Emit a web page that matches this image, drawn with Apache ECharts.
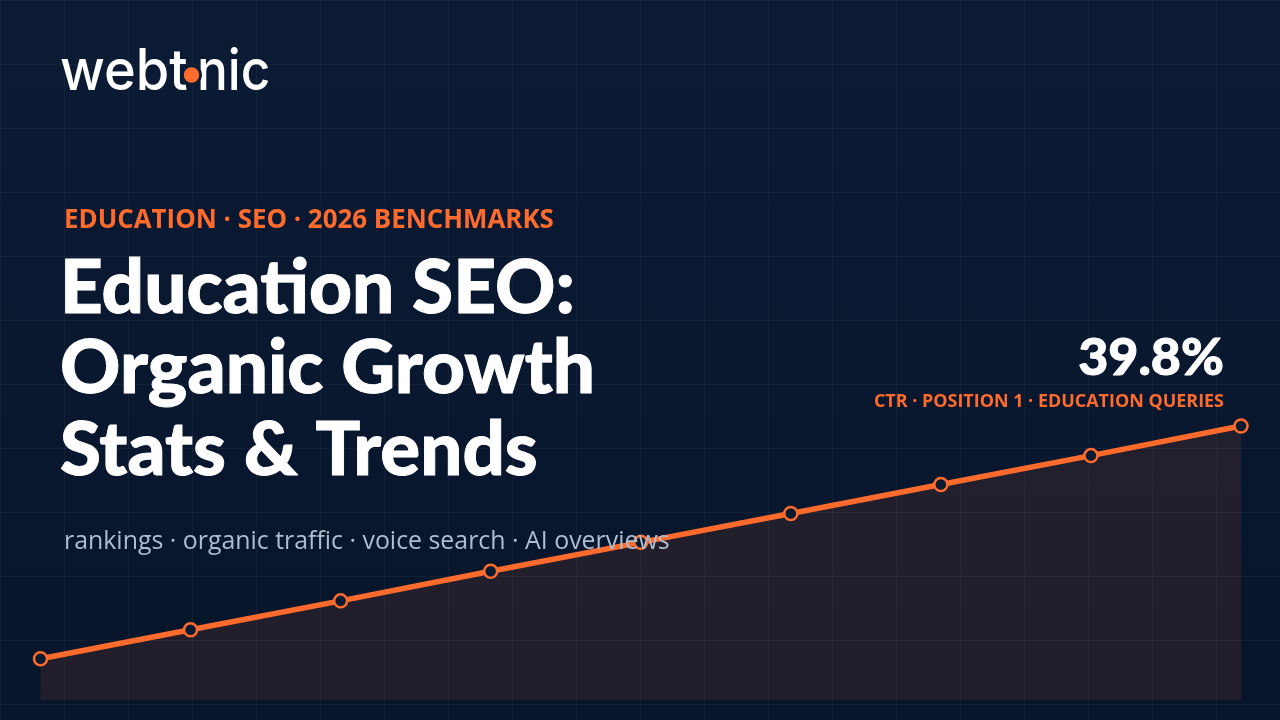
<!DOCTYPE html>
<html><head><meta charset="utf-8">
<style>html,body{margin:0;padding:0;background:#0a1a33}#c{width:1280px;height:720px}</style>
<script src="https://cdn.jsdelivr.net/npm/echarts@6/dist/echarts.min.js"></script>
</head><body><div id="c"></div>
<script>
const categories = ['1','2','3','4','5','6','7','8','9'];
const ctrValues = [6.0,10.2,14.4,18.7,22.9,27.1,31.3,35.5,39.8];
const orange = '#ff6b2c';
const titleLines = ['Education SEO:','Organic Growth','Stats & Trends'];
const chart = echarts.init(document.getElementById('c'), null, {renderer:'canvas',width:1280,height:720});
const txt = (x,y,text,font,fill,align,extra) => ({type:'text',z:50,x,y,style:Object.assign({text,font,fill,align:align||'left',verticalAlign:'middle'},extra||{})});
const heavy = {stroke:'#ffffff',lineWidth:0.9};
chart.setOption({
  animation:false,
  backgroundColor:{type:'linear',x:0,y:0,x2:0,y2:1,colorStops:[{offset:0,color:'#0b1b34'},{offset:1,color:'#07152a'}]},
  grid:[
    {left:0,right:0,top:0,bottom:0},
    {left:40.5,right:39,top:426,bottom:20}
  ],
  xAxis:[
    {gridIndex:0,type:'value',min:0,max:1280,interval:64,axisLine:{show:false},axisTick:{show:false},axisLabel:{show:false},splitLine:{show:true,lineStyle:{color:'rgba(255,255,255,0.045)',width:1}}},
    {gridIndex:1,type:'category',data:categories,boundaryGap:false,show:false}
  ],
  yAxis:[
    {gridIndex:0,type:'value',inverse:true,min:0,max:720,interval:64,axisLine:{show:false},axisTick:{show:false},axisLabel:{show:false},splitLine:{show:true,lineStyle:{color:'rgba(255,255,255,0.045)',width:1}}},
    {gridIndex:1,type:'value',min:0,max:39.8,show:false,splitLine:{show:false}}
  ],
  series:[{
    type:'line',xAxisIndex:1,yAxisIndex:1,data:ctrValues,z:5,
    symbol:'circle',symbolSize:13,showAllSymbols:true,
    lineStyle:{color:orange,width:5.5},
    itemStyle:{color:'#0a1a30',borderColor:orange,borderWidth:2.5},
    areaStyle:{color:'rgba(255,107,44,0.15)'}
  }],
  graphic:[
    Object.assign(txt(60,73,'webt','500 57px Inter','#ffffff'),{scaleX:0.95}),
    Object.assign(txt(197,73,'nic','500 57px Inter','#ffffff'),{scaleX:0.9}),
    {type:'circle',z:51,shape:{cx:191.5,cy:75,r:10.5},style:{fill:'#0b1b34'}},
    {type:'circle',z:52,shape:{cx:191.5,cy:75,r:7.7},style:{fill:orange}},
    txt(64,220.5,'EDUCATION · SEO · 2026 BENCHMARKS','700 25.9px "Open Sans"',orange),
    txt(60,289,titleLines[0],'900 74.6px Lato','#ffffff','left',heavy),
    txt(60,369,titleLines[1],'900 74.6px Lato','#ffffff','left',heavy),
    txt(60,451,titleLines[2],'900 74.4px Lato','#ffffff','left',heavy),
    txt(64,542,'rankings · organic traffic · voice search · AI overviews','400 24.9px "Open Sans"','#afbdd0'),
    txt(1224,358,'39.8%','900 52px Lato','#ffffff','right',heavy),
    txt(1224,402,'CTR · POSITION 1 · EDUCATION QUERIES','700 17.95px "Open Sans"',orange,'right')
  ]
});
</script></body></html>
